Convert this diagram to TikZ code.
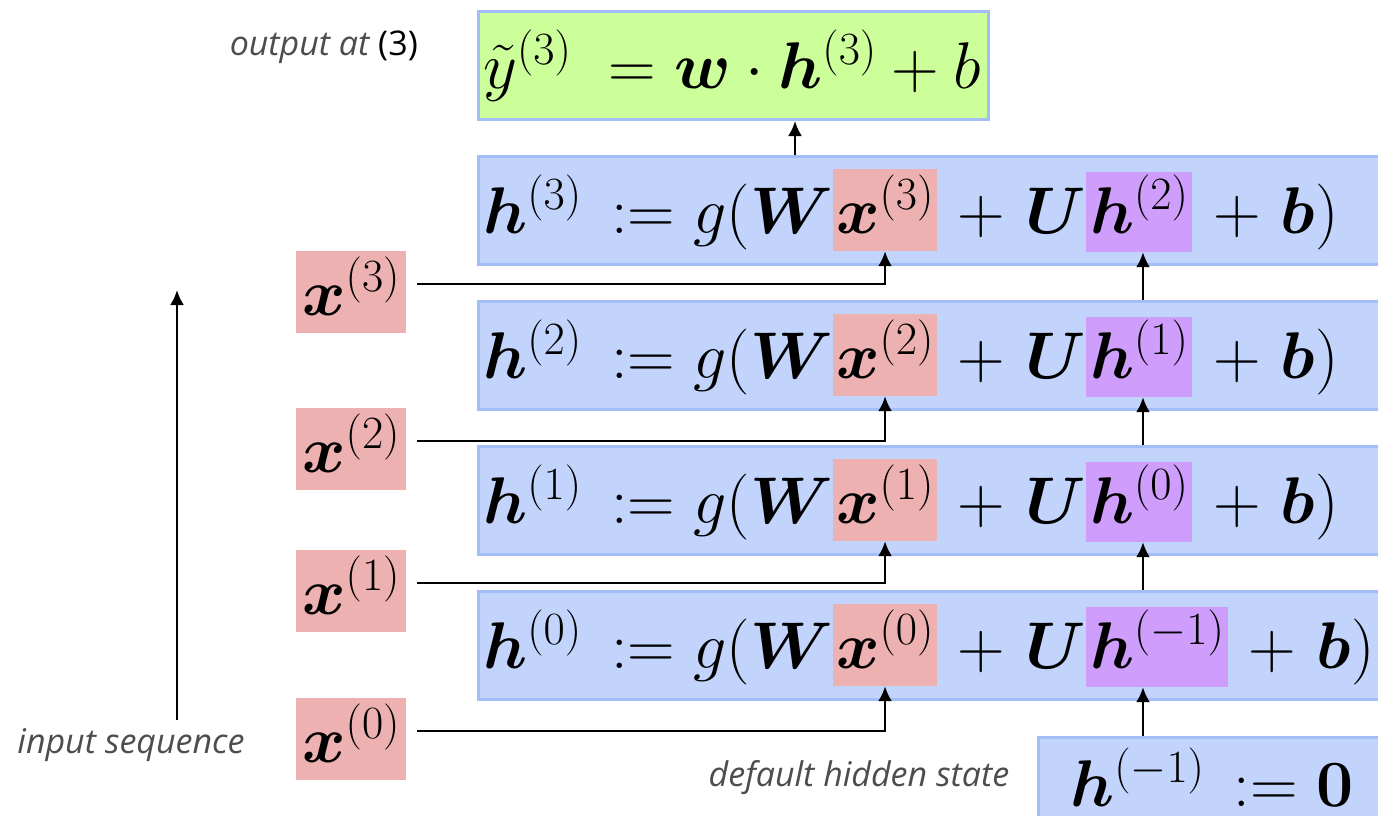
\RequirePackage{fix-cm}
\documentclass[tikz,border=0pt]{standalone}
\usepackage{amsmath}
\usepackage{bm}
\usepackage{fontspec}
\setsansfont{Open Sans}
\usetikzlibrary{arrows.meta}
\definecolor{bfill}{HTML}{C2D4FC}
\definecolor{bline}{HTML}{A3BEF6}
\definecolor{pinkc}{HTML}{ECB1B0}
\definecolor{purc}{HTML}{CF9DFB}
\definecolor{gfill}{HTML}{CCFE9A}
\definecolor{labgray}{HTML}{4D4D4D}
\newcommand\mfs{\fontsize{66}{72}\selectfont\medmuskip=5.5mu plus 2mu minus 4mu}
\newcommand\gfs{\fontsize{66}{72}\selectfont}
\newcommand\labfont{\fontsize{34}{40}\selectfont\sffamily\itshape}
\tikzset{
  rowbox/.style={draw=bline, fill=bfill, line width=3pt, inner sep=0pt, anchor=north west},
  part/.style={inner sep=0pt, anchor=base west, font=\mfs},
  xhl/.style={fill=pinkc, inner xsep=3pt, inner ysep=0pt, text height=64pt, text depth=18pt, anchor=base west, font=\mfs},
  xin/.style={xhl, inner xsep=6pt},
  hhl/.style={fill=purc, inner xsep=4pt, inner ysep=0pt, text height=61pt, text depth=19pt, anchor=base west, font=\mfs},
  arr/.style={-{Latex[length=15pt,width=14pt]}, line width=2.5pt},
  lab/.style={font=\labfont, text=labgray, inner sep=0pt},
}
\newcommand\hrow[4]{%
  \node[part] (#1a) at (483,#2) {$\bm h^{(#3)}\,:= g(\bm W$};
  \node[xhl] (#1x) at (#1a.base east) {$\bm x^{(#3)}$};
  \node[part] (#1b) at (#1x.base east) {${}+\bm U$};
  \node[hhl] (#1h) at (#1b.base east) {$\bm h^{(#4)}$};
  \node[part] (#1c) at (#1h.base east) {${}+\bm b)$};
}
\begin{document}
\begin{tikzpicture}[x=1pt,y=-1pt]
\useasboundingbox (0,0) rectangle (1378,815);
% boxes
\node[rowbox, fill=gfill, minimum width=510pt, minimum height=108pt] (g) at (477,10) {};
\node[rowbox, minimum width=913pt, minimum height=108pt] (r3) at (477,155) {};
\node[rowbox, minimum width=913pt, minimum height=108pt] (r2) at (477,300) {};
\node[rowbox, minimum width=913pt, minimum height=108pt] (r1) at (477,445) {};
\node[rowbox, minimum width=913pt, minimum height=108pt] (r0) at (477,590) {};
\node[rowbox, minimum width=360pt, minimum height=100pt] (rm) at (1037,736) {};
% formulas
\node[part, font=\gfs] (gt) at (483,88) {$\tilde y^{(3)}\;= \bm w\cdot\bm h^{(3)} + b$};
\hrow{s3}{233}{3}{2}
\hrow{s2}{378}{2}{1}
\hrow{s1}{523}{1}{0}
\hrow{s0}{668}{0}{-1}
\node[part] (mt) at (1070,806) {$\bm h^{(-1)}\,:= \bm 0$};
% left inputs
\node[xin] (xl3) at (296,315) {$\bm x^{(3)}$};
\node[xin] (xl2) at (296,472) {$\bm x^{(2)}$};
\node[xin] (xl1) at (296,614) {$\bm x^{(1)}$};
\node[xin] (xl0) at (296,762) {$\bm x^{(0)}$};
% connectors
\foreach \k in {3,2,1,0}{
  \draw[arr] ([xshift=11pt,yshift=8pt]xl\k.east) -| (s\k x.south);
}
\coordinate (hc) at (1143,0);
\draw[arr] (r2.north -| hc) -- (s3h.south -| hc);
\draw[arr] (r1.north -| hc) -- (s2h.south -| hc);
\draw[arr] (r0.north -| hc) -- (s1h.south -| hc);
\draw[arr] (rm.north -| hc) -- (s0h.south -| hc);
\coordinate (gc) at (795,0);
\draw[arr] (r3.north -| gc) -- (g.south -| gc);
% labels
\node[lab, anchor=east] (outl) at (418,47) {output at {\upshape\color{black}(3)}};
\node[lab] (inl) at (131,745) {input sequence};
\node[lab] (defl) at (859,778) {default hidden state};
\coordinate (ia) at (177,720);
\coordinate (ib) at (177,290);
\draw[arr] (ia) -- (ib);
\end{tikzpicture}
\end{document}
